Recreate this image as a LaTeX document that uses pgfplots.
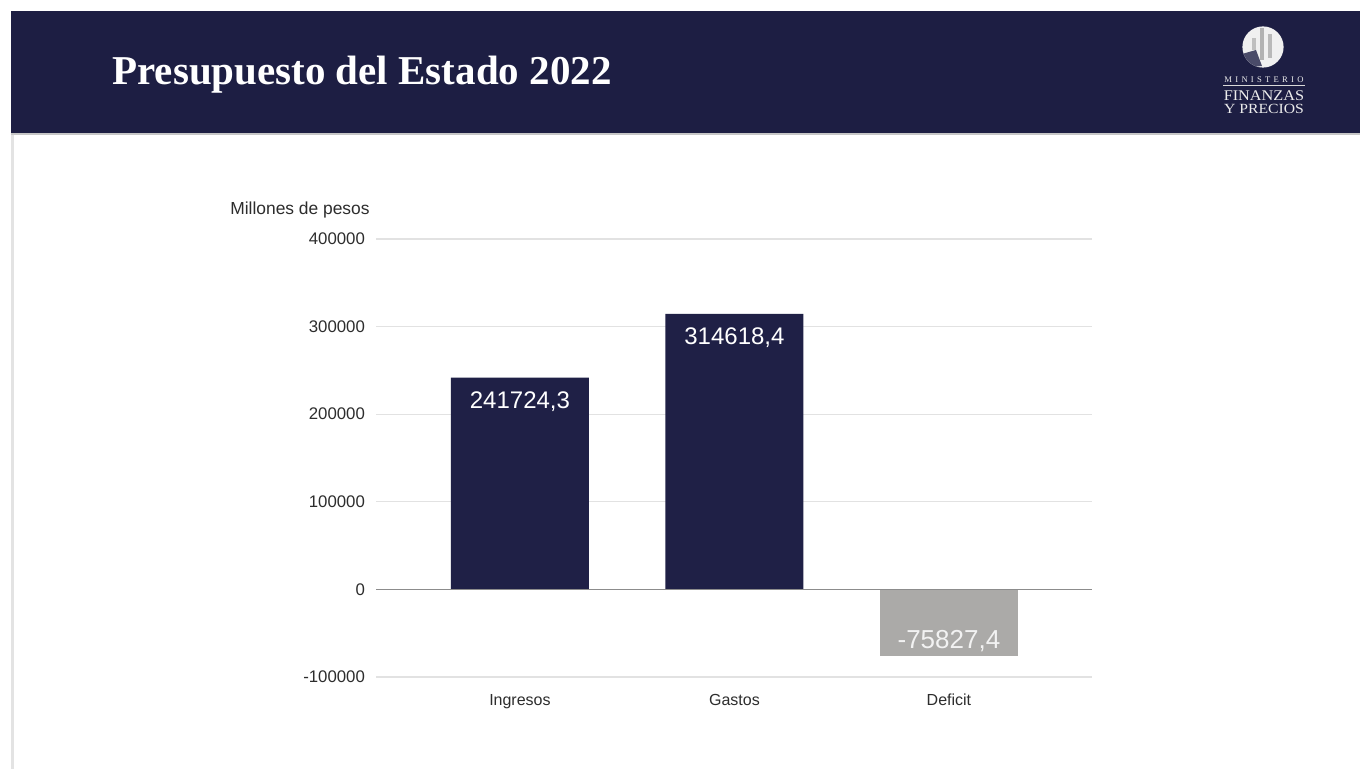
\documentclass[border=0pt]{standalone}
\usepackage{fontspec}
\setmainfont{Liberation Sans}
\newfontfamily\titlefont{Liberation Serif}
\usepackage{pgfplots}
\pgfplotsset{compat=1.18}

\definecolor{navy}{RGB}{29,30,67}
\definecolor{barnavy}{RGB}{31,32,70}
\definecolor{bargray}{RGB}{171,170,168}
\definecolor{gridgray}{RGB}{226,226,226}
\definecolor{zerogray}{RGB}{140,140,140}
\definecolor{labgray}{RGB}{45,45,45}

\begin{document}
\begin{tikzpicture}
% page: 1px = 0.5pt
\fill[white] (0,0) rectangle (680pt,-384.5pt);
\useasboundingbox (0,0) rectangle (680pt,-384.5pt);
% header band
\fill[navy] (5.5pt,-5.5pt) rectangle (680pt,-66.5pt);
\draw[gray!45,line width=0.8pt] (5.5pt,-66.9pt) -- (680pt,-66.9pt);
\draw[gray!22,line width=1.2pt] (6.2pt,-67.3pt) -- (6.2pt,-384.5pt);
\node[anchor=base west,inner sep=0pt,text=white]
  at (56pt,-42.5pt) {\titlefont\bfseries\fontsize{20.5}{24}\selectfont Presupuesto del Estado 2022};
% logo
\fill[white!88!gray] (631.5pt,-23.5pt) circle (10.3pt);
\begin{scope}
  \clip (631.5pt,-23.5pt) circle (10.3pt);
  \fill[navy!80] (621pt,-27pt) -- (628pt,-25pt) -- (631pt,-33pt) -- (621pt,-34pt) -- cycle;
  \fill[gray!60] (630pt,-14pt) rectangle (632pt,-30pt);
  \fill[gray!55] (634pt,-17pt) rectangle (636pt,-29pt);
  \fill[gray!50] (626pt,-19pt) rectangle (628pt,-25pt);
\end{scope}
\node[text=white!85!gray,inner sep=0pt] at (632pt,-40pt)
  {\titlefont\fontsize{4.3}{5}\selectfont\addfontfeature{LetterSpace=38}MINISTERIO};
\draw[white!70!gray,line width=0.3pt] (611.5pt,-42.6pt) -- (652.5pt,-42.6pt);
\node[text=white!85!gray,inner sep=0pt] at (632pt,-47.6pt)
  {\titlefont\fontsize{7.4}{8}\selectfont\scalebox{1.1}[1]{FINANZAS}};
\node[text=white!85!gray,inner sep=0pt] at (632pt,-54.6pt)
  {\titlefont\fontsize{7}{8}\selectfont\scalebox{1.12}[1]{Y PRECIOS}};
% unit label
\node[anchor=east,inner sep=0pt,text=labgray] at (185pt,-105pt)
  {\fontsize{8.7}{10}\selectfont Millones de pesos};

\begin{axis}[
  at={(188pt,-338.5pt)}, anchor=south west,
  scale only axis, width=358pt, height=219pt,
  xmin=-0.671, xmax=2.667,
  ymin=-100000, ymax=400000,
  ytick={-100000,0,100000,200000,300000,400000},
  yticklabels={-100000,0,100000,200000,300000,400000},
  scaled y ticks=false,
  xtick={0,1,2},
  xticklabels={Ingresos,Gastos,Deficit},
  ymajorgrids,
  grid style={gridgray,line width=0.6pt},
  axis line style={draw=none},
  tick style={draw=none},
  yticklabel style={font=\fontsize{8.4}{9.6}\selectfont,text=labgray,xshift=-2pt},
  xticklabel style={font=\fontsize{8}{9}\selectfont,text=labgray,anchor=base,yshift=-10pt},
  ybar, bar width=0.643, bar shift=0pt,
  point meta=explicit symbolic,
  nodes near coords={\pgfplotspointmeta},
  clip=false,
]
\addplot[draw=none,fill=barnavy,
  every node near coord/.append style={anchor=center,yshift=-12pt,text=white,font=\fontsize{12}{14}\selectfont}]
  coordinates {(0,241724.3) [241724,3] (1,314618.4) [314618,4]};
\addplot[draw=none,fill=bargray,
  every node near coord/.append style={anchor=center,yshift=7.5pt,text=white!90!gray,font=\fontsize{13}{15}\selectfont}]
  coordinates {(2,-75827.4) [-75827,4]};
\draw[zerogray,line width=0.7pt] (axis cs:-0.671,0) -- (axis cs:2.667,0);
\end{axis}
\end{tikzpicture}
\end{document}
